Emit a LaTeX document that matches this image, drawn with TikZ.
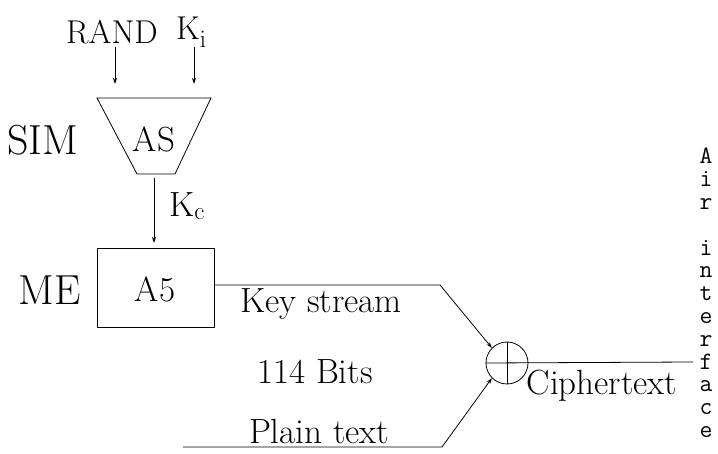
\documentclass[tikz,border=0pt]{standalone}
\usetikzlibrary{arrows.meta}
\begin{document}
\begin{tikzpicture}[x=1pt,y=-1pt,
  ln/.style={line width=0.8pt},
  arr/.style={ln,-{Stealth[length=6pt,width=4pt]}},
  txt/.style={font=\fontsize{35}{38}\selectfont,inner sep=0pt},
  big/.style={font=\fontsize{42}{45}\selectfont,inner sep=0pt},
  mid/.style={font=\fontsize{33}{36}\selectfont,inner sep=0pt},
  mono/.style={font=\ttfamily\fontsize{25}{22.8}\selectfont,inner sep=0pt,align=center}]
\useasboundingbox (0,0) rectangle (718,454);
% top inputs
\node[mid] (rand) at (112,32) {RAND};
\node[mid,anchor=west] (ki) at (176,32) {K$_{\mathrm{i}}$};
\coordinate (randS) at (115,47);
\coordinate (randE) at (115,84);
\coordinate (kiS) at (194,47);
\coordinate (kiE) at (194,84);
\draw[arr] (randS) -- (randE);
\draw[arr] (kiS) -- (kiE);
% A8 trapezoid
\coordinate (t1) at (97,98);
\coordinate (t2) at (211,98);
\coordinate (t3) at (175,174);
\coordinate (t4) at (137,174);
\draw[ln] (t1) -- (t2) -- (t3) -- (t4) -- cycle;
\node[txt] (as) at (154,139) {AS};
\node[big] (sim) at (43,140) {SIM};
% Kc
\coordinate (kcS) at (154,178);
\coordinate (kcE) at (154,243);
\draw[arr] (kcS) -- (kcE);
\node[txt,anchor=west] (kc) at (169,206) {K$_{\mathrm{c}}$};
% A5 box
\node[ln,draw,minimum width=117pt,minimum height=79pt,inner sep=0pt] (a5) at (155.5,287.5) {};
\node[txt] (a5t) at (155,289) {A5};
\node[big] (me) at (50,290) {ME};
% XOR
\node[ln,draw,circle,minimum size=42pt,inner sep=0pt] (xor) at (507,363) {};
\draw[ln] (xor.north) -- (xor.south);
\coordinate (out) at (693,362);
\draw[ln] (xor.west) -- (out);
% key stream
\coordinate (ksA) at (440,285);
\draw[arr] (a5.east |- ksA) -- (ksA) -- (xor.north west);
% plain text
\coordinate (ptS) at (183,447);
\coordinate (ptA) at (442,447);
\draw[arr] (ptS) -- (ptA) -- (xor.south west);
% labels
\node[txt] (ks) at (321,304) {Key stream};
\node[txt] (bits) at (315,372) {114 Bits};
\node[txt] (pt) at (319,431) {Plain text};
\node[txt] (ct) at (602,386) {Ciphertext};
% Air interface
\node[mono,anchor=north] (air) at (706,148) {A\\i\\r\\ \\i\\n\\t\\e\\r\\f\\a\\c\\e};
\end{tikzpicture}
\end{document}
